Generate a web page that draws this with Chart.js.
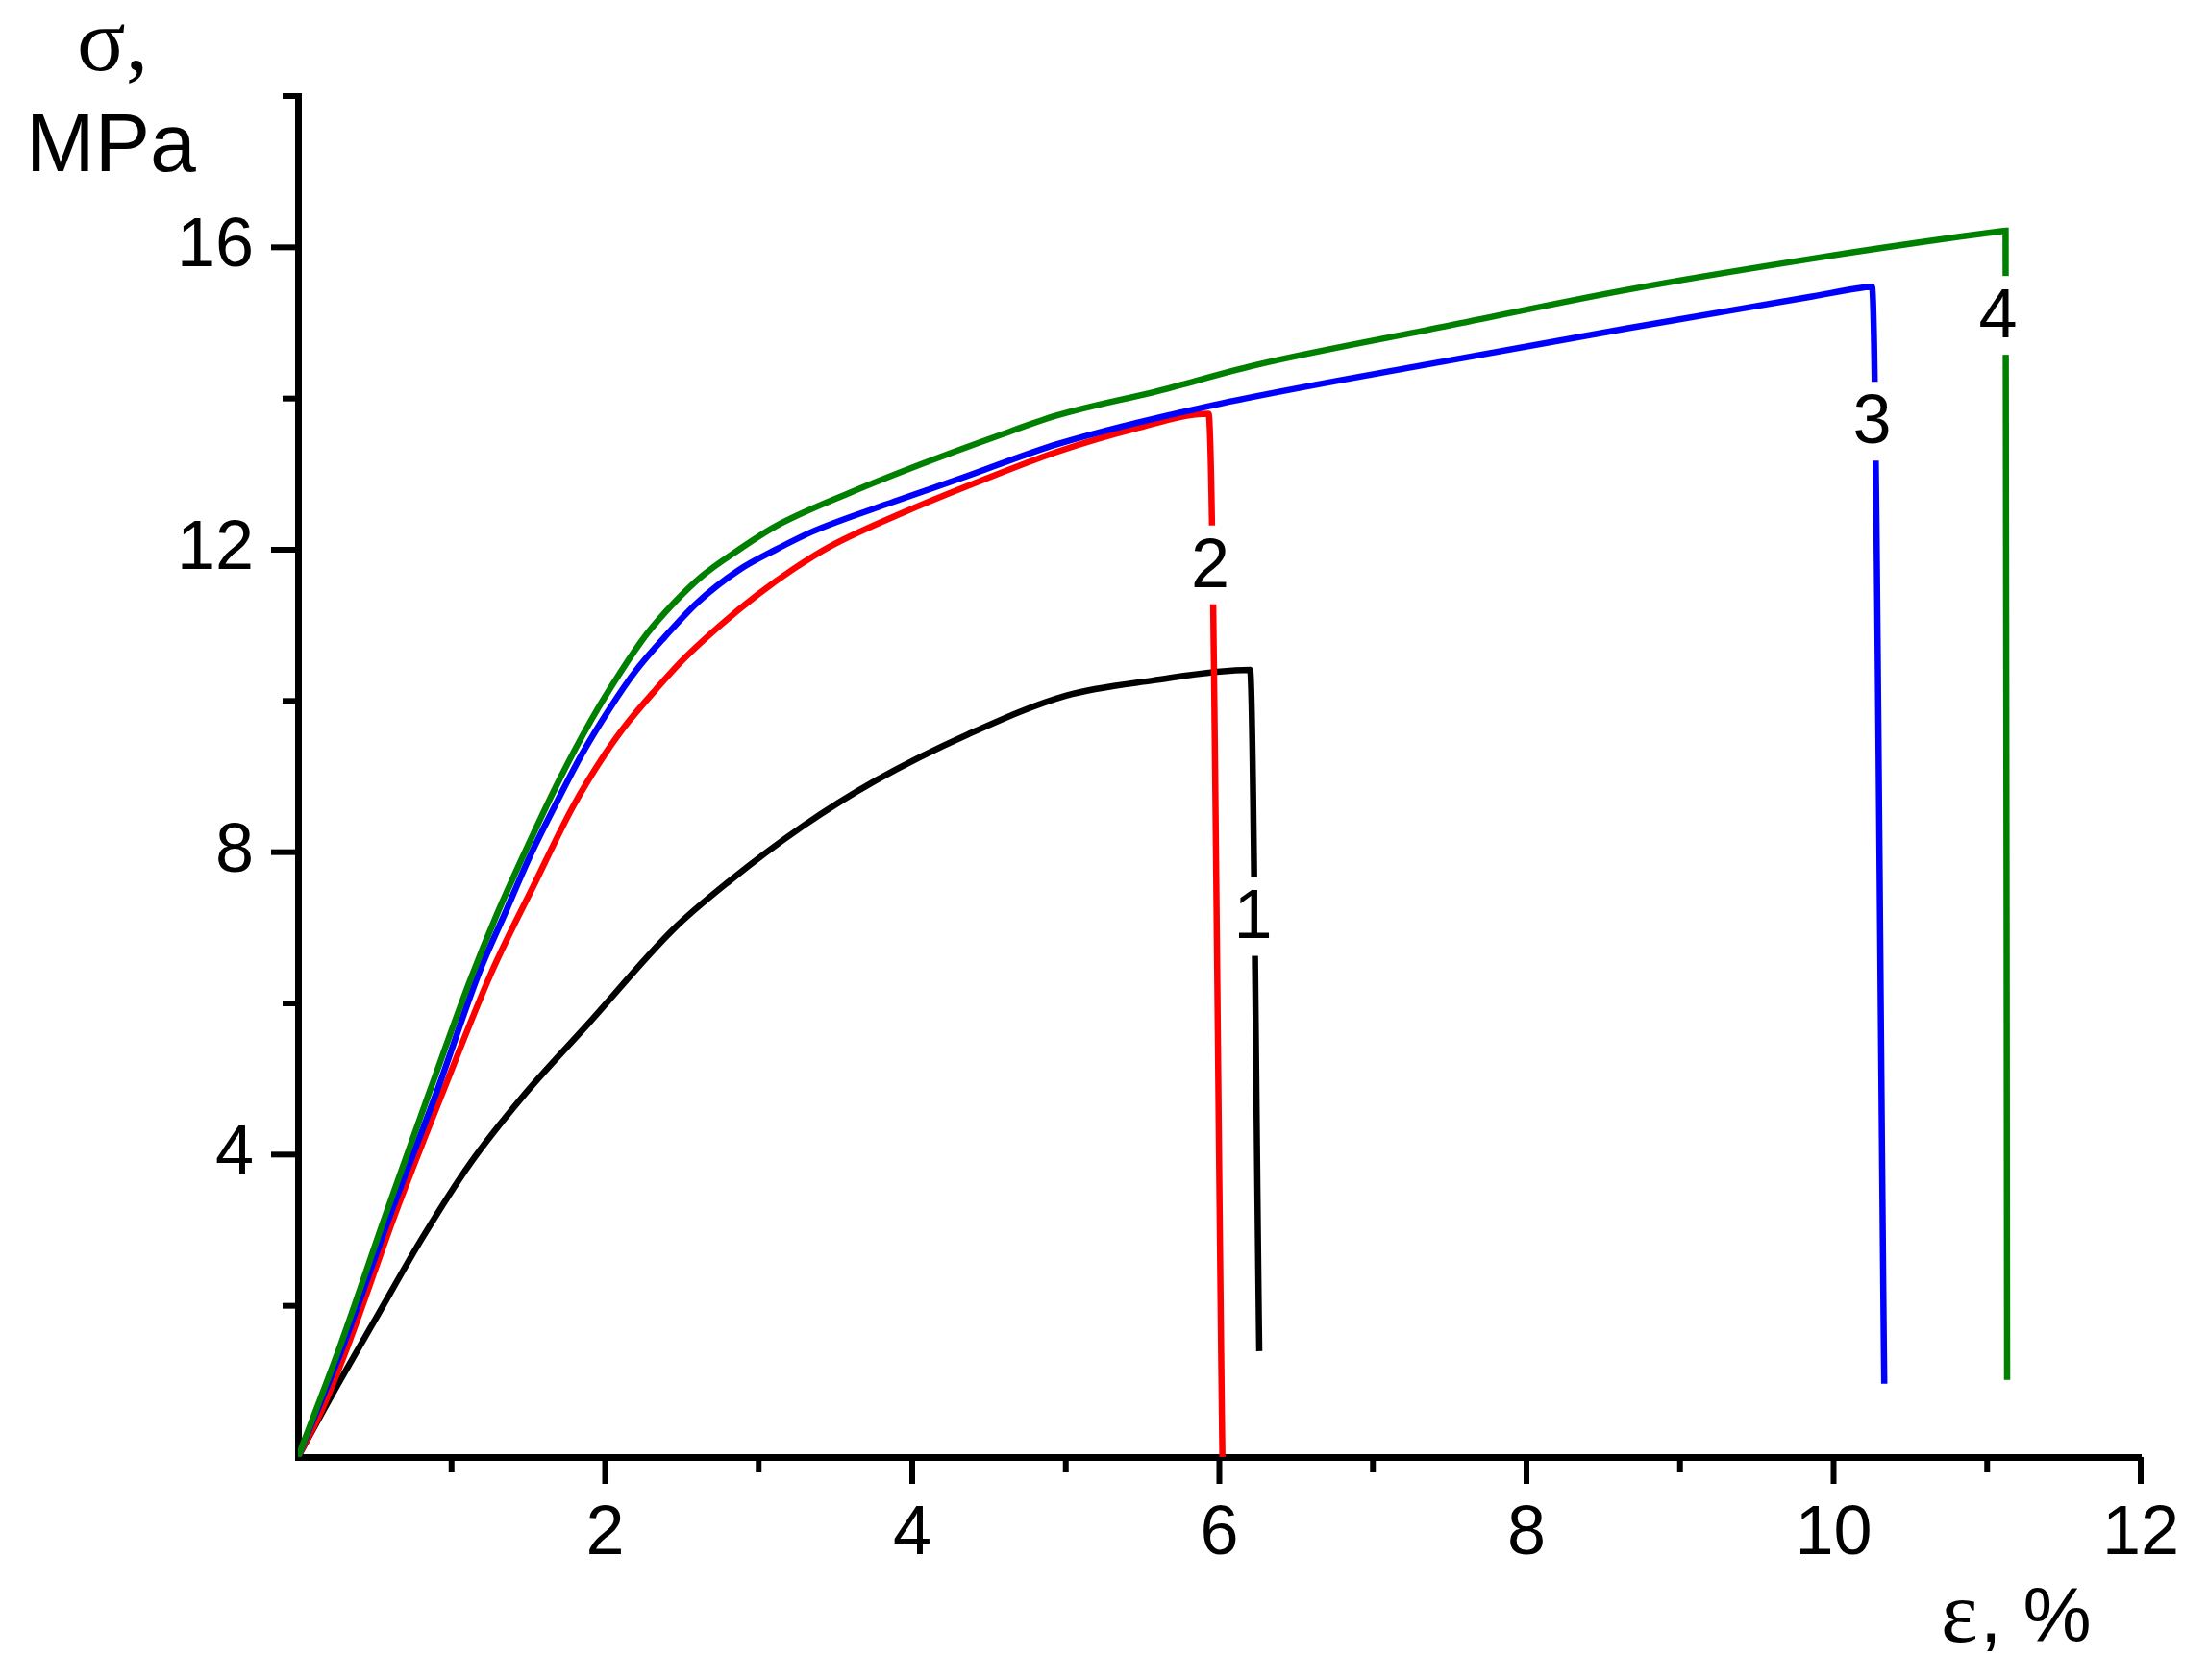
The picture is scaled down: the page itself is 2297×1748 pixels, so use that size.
<!DOCTYPE html>
<html>
<head>
<meta charset="utf-8">
<script src="https://cdn.jsdelivr.net/npm/chart.js@4.4.1/dist/chart.umd.min.js"></script>
<style>
html, body { margin: 0; padding: 0; background: #fff; overflow: hidden; }
canvas { display: block; }
</style>
</head>
<body>
<canvas id="stressChart" width="2297" height="1748"></canvas>
<script>
// curve 1 (black)
var STRAIN_1 = [0, 0.21, 0.52, 0.81, 1.12, 1.46, 1.89, 2.445, 2.805, 3.285, 3.765, 4.365, 5.0, 5.564, 6.2, 6.26];
var STRESS_1 = [0, 0.78, 1.88, 2.9, 3.88, 4.76, 5.73, 6.98, 7.61, 8.34, 8.95, 9.56, 10.07, 10.27, 10.41, 1.4];
// curve 2 (red)
var STRAIN_2 = [0, 0.15, 0.33, 0.63, 0.94, 1.26, 1.54, 1.79, 2.0, 2.15, 2.33, 2.51, 2.75, 2.99, 3.23, 3.47, 3.95, 4.43, 4.95, 5.45, 5.93, 6.02];
var STRESS_2 = [0, 0.6, 1.5, 3.2, 4.81, 6.41, 7.58, 8.6, 9.3, 9.72, 10.15, 10.55, 11.0, 11.4, 11.75, 12.05, 12.5, 12.9, 13.3, 13.6, 13.8, 0];
// curve 3 (blue)
var STRAIN_3 = [0, 0.3, 0.6, 0.9, 1.18, 1.35, 1.5, 1.67, 1.85, 2.03, 2.2, 2.39, 2.6, 2.87, 3.11, 3.35, 3.83, 4.31, 4.95, 5.91, 7.46, 8.66, 9.86, 10.2, 10.25, 10.33];
var STRESS_3 = [0, 1.5, 3.2, 4.81, 6.41, 7.2, 7.9, 8.6, 9.3, 9.9, 10.4, 10.85, 11.3, 11.73, 12.0, 12.24, 12.6, 12.94, 13.4, 13.89, 14.49, 14.93, 15.35, 15.47, 15.48, 0.97];
// curve 4 (green)
var STRAIN_4 = [0, 0.28, 0.57, 0.86, 1.12, 1.3, 1.5, 1.7, 1.91, 2.1, 2.27, 2.45, 2.63, 2.87, 3.11, 3.59, 4.07, 4.55, 4.95, 5.6, 6.23, 7.46, 8.66, 9.86, 10.82, 11.08, 11.12, 11.13];
var STRESS_4 = [0, 1.5, 3.2, 4.85, 6.3, 7.2, 8.1, 8.95, 9.75, 10.38, 10.88, 11.3, 11.65, 12.0, 12.31, 12.75, 13.14, 13.5, 13.78, 14.1, 14.44, 14.95, 15.44, 15.85, 16.14, 16.21, 16.22, 1.02];

var X_LABELS = [2, 4, 6, 8, 10, 12];
var Y_LABELS = [4, 8, 12, 16];

// curve numbers, placed in data units on the break of each drop line
var TAG_TEXT = ["1", "2", "3", "4"];
var TAG_X = [6.22, 5.94, 10.25, 11.07];
var TAG_Y = [7.15, 11.8, 13.7, 15.1];

var SANS = '"Liberation Sans", Arial, sans-serif';
var SERIF = '"Liberation Serif", "Times New Roman", serif';

function pts(xs, ys) {
    return xs.map(function (x, i) { return { x: x, y: ys[i] }; });
}

var axisTicks = {
    id: 'axisTicks',
    afterDraw: function (chart) {
        var ctx = chart.ctx, xs = chart.scales.x, ys = chart.scales.y;
        ctx.save();
        ctx.strokeStyle = '#000';
        ctx.lineWidth = 6;
        xs.ticks.forEach(function (t) {
            if (t.value === 0) return;
            var px = xs.getPixelForValue(t.value);
            var len = X_LABELS.indexOf(t.value) >= 0 ? 28 : 16;
            ctx.beginPath();
            ctx.moveTo(px, xs.top);
            ctx.lineTo(px, xs.top + len);
            ctx.stroke();
        });
        ys.ticks.forEach(function (t) {
            if (t.value === 0) return;
            var py = ys.getPixelForValue(t.value);
            var len = Y_LABELS.indexOf(t.value) >= 0 ? 28 : 16;
            ctx.beginPath();
            ctx.moveTo(ys.right, py);
            ctx.lineTo(ys.right - len, py);
            ctx.stroke();
        });

        // axis titles
        ctx.fillStyle = '#000';
        ctx.textAlign = 'left';
        ctx.textBaseline = 'alphabetic';
        ctx.font = '94px ' + SERIF;
        ctx.fillText('σ,', 80, 73);
        ctx.font = '86px ' + SANS;
        ctx.fillText('MPa', 27, 178);
        ctx.font = '92px ' + SERIF;
        ctx.fillText('ε', 2019, 1708);
        ctx.font = '80px ' + SANS;
        ctx.fillText(', %', 2060, 1708);
        ctx.restore();
    },
    afterDatasetsDraw: function (chart) {
        var ctx = chart.ctx, xs = chart.scales.x, ys = chart.scales.y;
        ctx.save();
        ctx.font = '72px ' + SANS;
        ctx.textAlign = 'center';
        ctx.textBaseline = 'middle';
        TAG_TEXT.forEach(function (tag, i) {
            var px = xs.getPixelForValue(TAG_X[i]), py = ys.getPixelForValue(TAG_Y[i]);
            ctx.fillStyle = '#fff';
            ctx.fillRect(px - 22, py - 41, 44, 82);
            ctx.fillStyle = '#000';
            ctx.fillText(tag, px, py + 3);
        });
        ctx.restore();
    }
};

var ctx = document.getElementById('stressChart').getContext('2d');
var chart = new Chart(ctx, {
    type: 'line',
    data: {
        datasets: [
            { label: '1', data: pts(STRAIN_1, STRESS_1), borderColor: '#000000', order: 4 },
            { label: '2', data: pts(STRAIN_2, STRESS_2), borderColor: '#ff0000', order: 3 },
            { label: '3', data: pts(STRAIN_3, STRESS_3), borderColor: '#0000ff', order: 2 },
            { label: '4', data: pts(STRAIN_4, STRESS_4), borderColor: '#008000', order: 1 }
        ]
    },
    options: {
        responsive: false,
        animation: false,
        devicePixelRatio: 1,
        layout: { padding: { left: 0, right: 70, top: 100, bottom: 0 } },
        elements: {
            line: { borderWidth: 6.5, cubicInterpolationMode: 'monotone', fill: false },
            point: { radius: 0 }
        },
        plugins: { legend: { display: false }, tooltip: { enabled: false } },
        scales: {
            x: {
                type: 'linear',
                min: 0, max: 12,
                grid: { display: false, drawTicks: false },
                border: { display: true, color: '#000', width: 7 },
                ticks: {
                    stepSize: 1,
                    autoSkip: false,
                    maxRotation: 0,
                    padding: 38,
                    color: '#000',
                    font: { family: SANS, size: 72 },
                    callback: function (v) { return X_LABELS.indexOf(v) >= 0 ? String(v) : ''; }
                },
                afterFit: function (s) { s.height = 232; s.paddingLeft = 0; s.paddingRight = 0; }
            },
            y: {
                type: 'linear',
                min: 0, max: 18,
                grid: { display: false, drawTicks: false },
                border: { display: true, color: '#000', width: 7 },
                ticks: {
                    stepSize: 2,
                    autoSkip: false,
                    padding: 46,
                    color: '#000',
                    font: { family: SANS, size: 72 },
                    callback: function (v) { return Y_LABELS.indexOf(v) >= 0 ? String(v) : ''; }
                },
                afterFit: function (s) { s.width = 310; s.paddingTop = 0; s.paddingBottom = 0; }
            }
        }
    },
    plugins: [axisTicks]
});
</script>
</body>
</html>
